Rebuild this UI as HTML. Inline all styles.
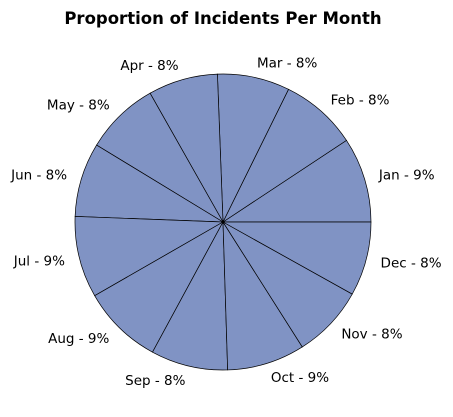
<!DOCTYPE html>
<html><head><meta charset="utf-8"><style>
html,body{margin:0;padding:0;background:#fff;}
svg{display:block;font-family:"DejaVu Sans","Liberation Sans",sans-serif;}
</style></head><body>
<svg id="chart" width="453" height="417">
<text x="223" y="24" text-anchor="middle" font-size="16.5" font-weight="bold">Proportion of Incidents Per Month</text>
<g id="slices"></g><g id="labels"></g>
</svg>
<script>
const categories=["Jan","Feb","Mar","Apr","May","Jun","Jul","Aug","Sep","Oct","Nov","Dec"];
const values=[93,84,79,76,81,81,89,88,84,85,79,81];
const cx=223,cy=222,R=148;
const total=values.reduce((a,b)=>a+b,0);
const ns="http://www.w3.org/2000/svg";
const sg=document.getElementById('slices'),lg=document.getElementById('labels');
let a0=0;
values.forEach((v,i)=>{
  const a1=a0+v/total*2*Math.PI;
  const x0=cx+R*Math.cos(a0),y0=cy-R*Math.sin(a0),x1=cx+R*Math.cos(a1),y1=cy-R*Math.sin(a1);
  const large=(a1-a0)>Math.PI?1:0;
  const p=document.createElementNS(ns,'path');
  p.setAttribute('d',`M${cx},${cy}L${x0},${y0}A${R},${R} 0 ${large} 0 ${x1},${y1}Z`);
  p.setAttribute('fill','#8093c4');p.setAttribute('stroke','#000');p.setAttribute('stroke-width','0.7');
  
  
  sg.appendChild(p);
  const m=(a0+a1)/2,lr=R*1.1;
  const lx=cx+lr*Math.cos(m),ly=cy-lr*Math.sin(m);
  const t=document.createElementNS(ns,'text');
  t.setAttribute('x',lx);t.setAttribute('y',ly+4.5);t.setAttribute('font-size','13.5');
  const c=Math.cos(m);
  t.setAttribute('text-anchor',Math.abs(c)<0.1?'middle':(c>0?'start':'end'));
  t.textContent=categories[i]+' - '+Math.round(v/total*100)+'%';
  
  
  lg.appendChild(t);
  a0=a1;
});
</script>
</body></html>
